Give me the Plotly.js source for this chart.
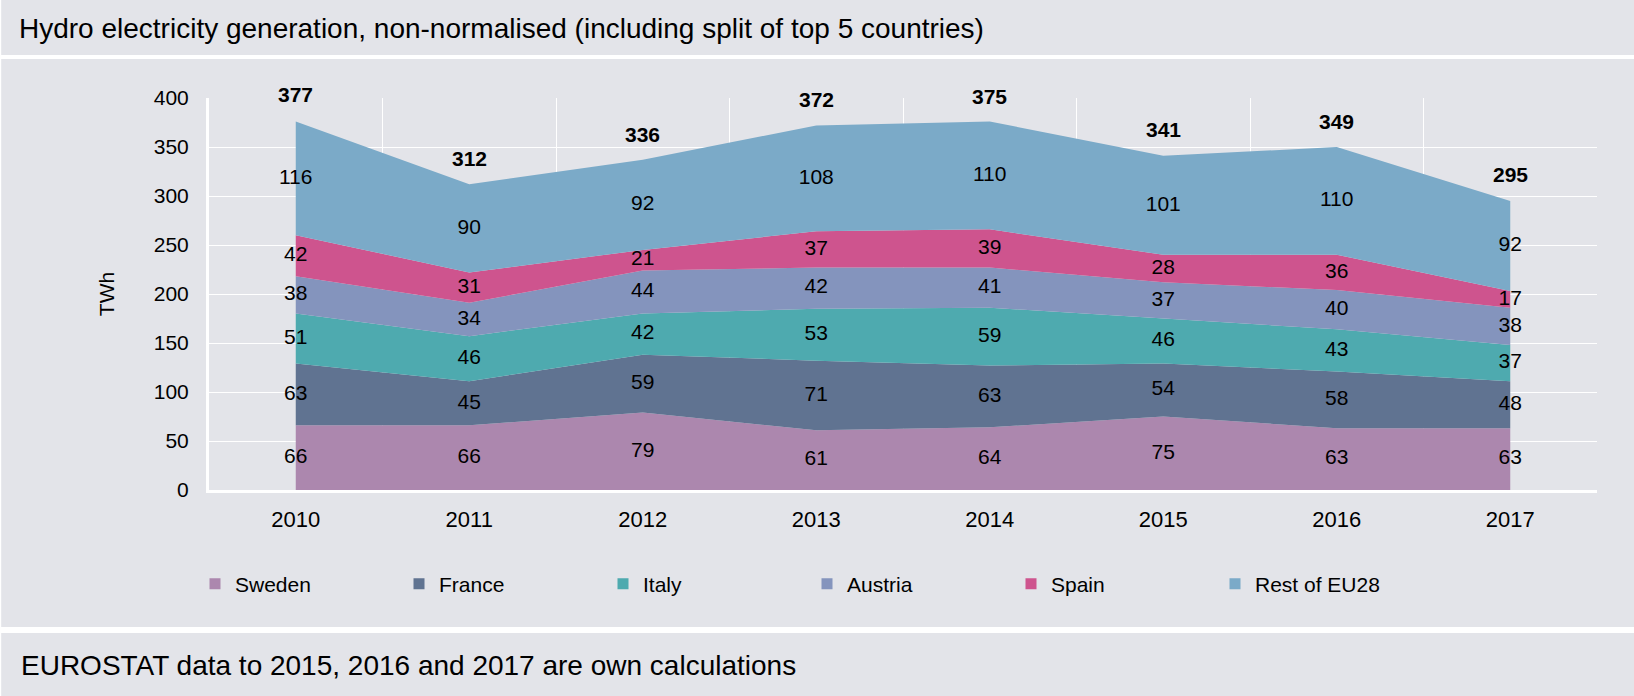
<!DOCTYPE html>
<html>
<head>
<meta charset="utf-8">
<script src="https://cdn.plot.ly/plotly-3.0.1.min.js"></script>
<style>
  html, body { margin: 0; padding: 0; background: #ffffff; }
  #chart { width: 1634px; height: 696px; }
</style>
</head>
<body>
<div id="chart"></div>
<script>
// values (TWh)
var years   = ['2010', '2011', '2012', '2013', '2014', '2015', '2016', '2017'];
var sweden  = [66, 66, 79, 61, 64, 75, 63, 63];
var france  = [63, 45, 59, 71, 63, 54, 58, 48];
var italy   = [51, 46, 42, 53, 59, 46, 43, 37];
var austria = [38, 34, 44, 42, 41, 37, 40, 38];
var spain   = [42, 31, 21, 37, 39, 28, 36, 17];
var restEU  = [116, 90, 92, 108, 110, 101, 110, 92];
var totals  = [377, 312, 336, 372, 375, 341, 349, 295];

var names  = ['Sweden', 'France', 'Italy', 'Austria', 'Spain', 'Rest of EU28'];
var series = [sweden, france, italy, austria, spain, restEU];
var colors = ['#ac87ae', '#607391', '#4eaaaf', '#8494bd', '#ce548e', '#7baac8'];

var W = 1634, H = 696;
var M = { l: 209, r: 37, t: 98, b: 206 };
var plotW = W - M.l - M.r, plotH = H - M.t - M.b;
function px2x(p) { return (p - M.l) / plotW; }
function px2y(p) { return (H - M.b - p) / plotH; }

var font = 'Liberation Sans, Arial, sans-serif';
var bg = '#e3e4e9';

var traces = [];
var base = years.map(function () { return 0; });

series.forEach(function (vals, i) {
  traces.push({
    type: 'scatter', x: years, y: vals, stackgroup: 'one',
    mode: 'lines', line: { width: 0 }, fillcolor: colors[i],
    name: names[i], showlegend: false, hoverinfo: 'name+y'
  });
  var mid = vals.map(function (v, k) { return base[k] + v / 2; });
  base = base.map(function (b, k) { return b + vals[k]; });
  traces.push({
    type: 'scatter', x: years, y: mid, mode: 'text',
    text: vals.map(String), textposition: 'middle center',
    textfont: { family: font, size: 21, color: '#000' },
    showlegend: false, hoverinfo: 'skip'
  });
});

// legend entries (square swatches)
names.forEach(function (n, i) {
  traces.push({
    type: 'scatter', x: [null], y: [null], mode: 'markers', name: n,
    marker: { symbol: 'square', size: 11, color: colors[i] },
    hoverinfo: 'skip'
  });
});

// totals above the stack (category index as x position)
var annotations = totals.map(function (t, k) {
  return {
    x: k, y: t, xref: 'x', yref: 'y', text: '<b>' + t + '</b>',
    showarrow: false, yshift: 26,
    font: { family: font, size: 21, color: '#000' }
  };
});
annotations.push({
  xref: 'paper', yref: 'paper', x: px2x(19), y: px2y(665),
  xanchor: 'left', yanchor: 'middle', showarrow: false,
  text: 'EUROSTAT data to 2015, 2016 and 2017 are own calculations',
  font: { family: font, size: 28, color: '#000' }
});

var bandX0 = px2x(-5), bandX1 = px2x(W + 5);
var shapes = [
  { type: 'rect', xref: 'paper', yref: 'paper', layer: 'below',
    x0: bandX0, x1: bandX1, y0: px2y(59), y1: px2y(55),
    fillcolor: '#ffffff', line: { width: 0 } },
  { type: 'rect', xref: 'paper', yref: 'paper', layer: 'below',
    x0: bandX0, x1: bandX1, y0: px2y(633), y1: px2y(627),
    fillcolor: '#ffffff', line: { width: 0 } },
  { type: 'rect', xref: 'paper', yref: 'paper', layer: 'below',
    x0: px2x(0), x1: px2x(1.2), y0: px2y(H + 2), y1: px2y(-2),
    fillcolor: '#ffffff', line: { width: 0 } }
];

var layout = {
  width: W, height: H,
  margin: M,
  paper_bgcolor: bg, plot_bgcolor: bg,
  font: { family: font, size: 21, color: '#000' },
  title: {
    text: 'Hydro electricity generation, non-normalised (including split of top 5 countries)',
    font: { family: font, size: 28, color: '#000' },
    xref: 'container', yref: 'container',
    x: 19 / W, xanchor: 'left', y: 1 - 28 / H, yanchor: 'middle'
  },
  xaxis: {
    type: 'category', range: [-0.5, 7.5], tickson: 'boundaries',
    showgrid: true, gridcolor: '#ffffff', gridwidth: 1,
    showline: true, linecolor: '#ffffff', linewidth: 3,
    ticks: '', ticklabelstandoff: 8, zeroline: false,
    tickfont: { family: font, size: 22, color: '#000' }
  },
  yaxis: {
    range: [0, 400], dtick: 50, tick0: 0,
    showgrid: true, gridcolor: '#ffffff', gridwidth: 1,
    showline: true, linecolor: '#ffffff', linewidth: 3,
    ticks: '', ticklabelstandoff: 13, zeroline: false,
    tickfont: { family: font, size: 21, color: '#000' },
    title: { text: 'TWh', standoff: 34, font: { family: font, size: 21, color: '#000' } }
  },
  showlegend: true,
  legend: {
    orientation: 'h', x: px2x(195), xanchor: 'left',
    y: px2y(584), yanchor: 'middle',
    entrywidth: 159, entrywidthmode: 'pixels',
    bgcolor: 'rgba(0,0,0,0)', traceorder: 'normal',
    font: { family: font, size: 21, color: '#000' }
  },
  annotations: annotations,
  shapes: shapes
};

Plotly.newPlot('chart', traces, layout, { displayModeBar: false, staticPlot: true });
</script>
</body>
</html>
